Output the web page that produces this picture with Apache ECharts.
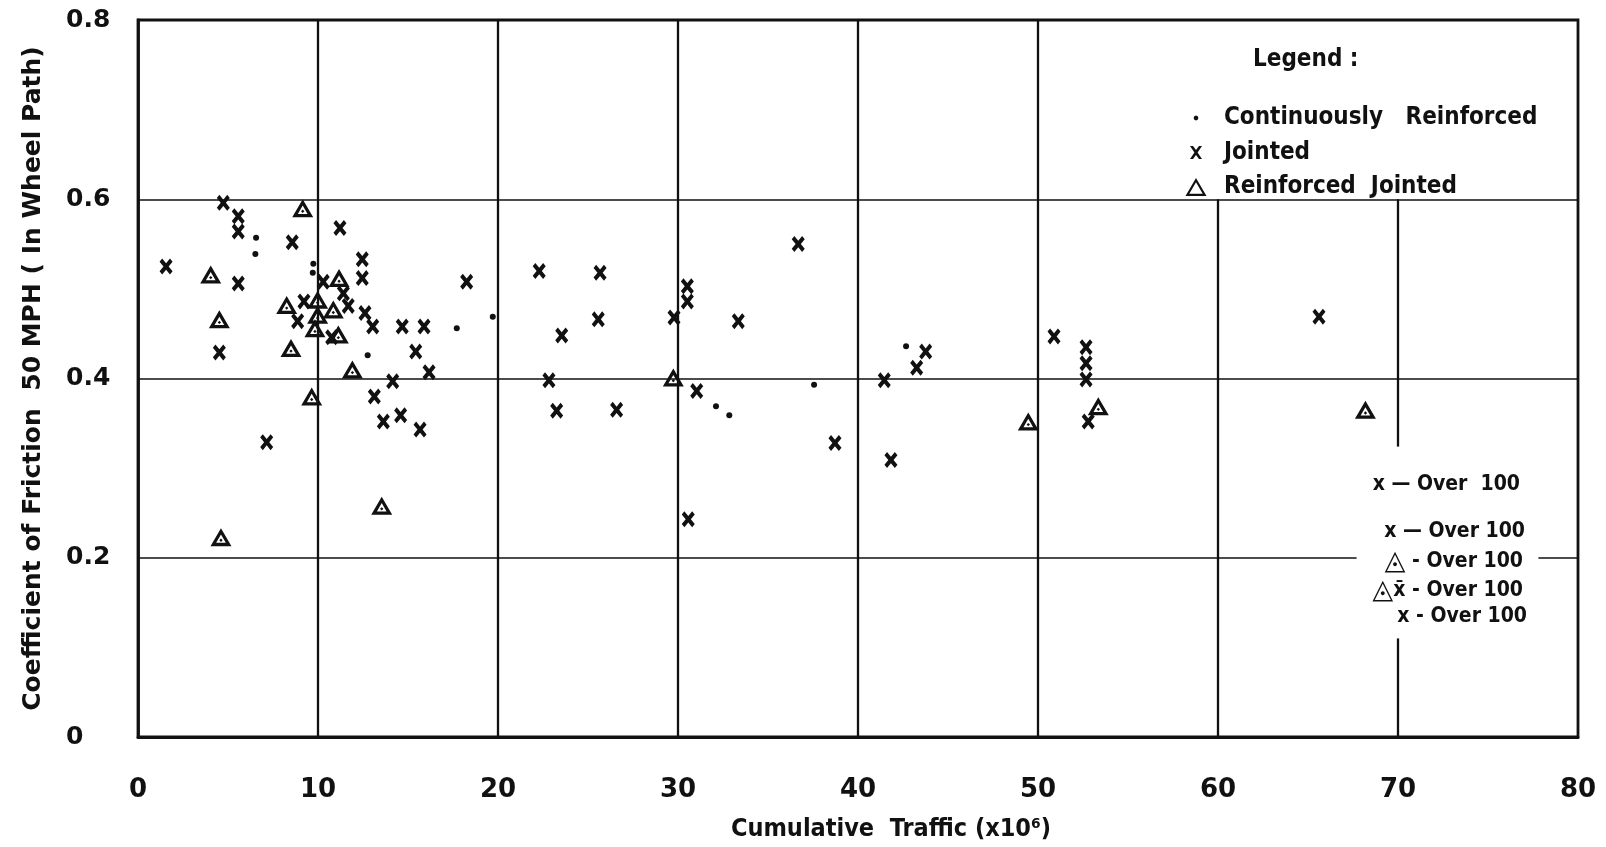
<!DOCTYPE html>
<html>
<head>
<meta charset="utf-8">
<title>Coefficient of Friction vs Cumulative Traffic</title>
<script src="https://cdn.jsdelivr.net/npm/echarts@6.0.0/dist/echarts.min.js"></script>
<style>
  html, body { margin: 0; padding: 0; background: #fff; }
  #chart { width: 1606px; height: 847px; }
</style>
</head>
<body>
<div id="chart"></div>
<script>
// Cumulative traffic (millions) vs. coefficient of friction at 50 mph
const continuouslyReinforced = [
  [6.56, 0.557], [6.52, 0.539], [9.74, 0.528], [9.71, 0.518], [12.76, 0.426],
  [17.71, 0.456], [19.71, 0.469], [32.11, 0.369], [32.85, 0.359], [37.56, 0.393],
  [42.67, 0.436]
];

const jointed = [
  [1.56, 0.525], [4.74, 0.596], [5.57, 0.581], [5.57, 0.564], [5.57, 0.506],
  [4.52, 0.429], [7.15, 0.329], [8.57, 0.552], [8.87, 0.464], [9.22, 0.486],
  [10.29, 0.508], [10.76, 0.446], [11.22, 0.568], [11.41, 0.495], [11.68, 0.481],
  [12.46, 0.533], [12.46, 0.512], [12.61, 0.473], [13.04, 0.458], [13.13, 0.380],
  [13.63, 0.352], [14.15, 0.397], [14.59, 0.359], [14.68, 0.458], [15.43, 0.430],
  [15.67, 0.343], [15.89, 0.458], [16.17, 0.407], [18.26, 0.508], [22.29, 0.520],
  [22.83, 0.398], [23.26, 0.364], [23.54, 0.448], [25.57, 0.466], [25.67, 0.518],
  [26.59, 0.365], [29.78, 0.468], [30.52, 0.503], [30.52, 0.486], [30.57, 0.243],
  [31.04, 0.386], [33.35, 0.464], [36.68, 0.550], [38.72, 0.328], [41.46, 0.398],
  [41.83, 0.309], [43.26, 0.412], [43.76, 0.430], [50.89, 0.447], [52.67, 0.435],
  [52.67, 0.417], [52.67, 0.399], [52.79, 0.352], [65.61, 0.469]
];

const reinforcedJointed = [
  [4.04, 0.516], [4.52, 0.466], [4.61, 0.223], [8.26, 0.482], [8.50, 0.434],
  [9.15, 0.590], [9.65, 0.380], [9.83, 0.456], [9.98, 0.488], [9.98, 0.471],
  [10.85, 0.477], [11.13, 0.449], [11.17, 0.512], [11.91, 0.410], [13.54, 0.258],
  [29.74, 0.401], [49.46, 0.352], [53.35, 0.369], [68.19, 0.365]
];

// Ruled grid: [x, yFrom, yTo] and [y, xFrom, xTo], broken around the notes
const verticalRules = [
  [10, 0, 0.8], [20, 0, 0.8], [30, 0, 0.8], [40, 0, 0.8], [50, 0, 0.8],
  [60, 0, 0.6], [70, 0.324, 0.6], [70, 0, 0.11]
];
const horizontalRules = [
  [0.6, 0, 80], [0.4, 0, 80], [0.2, 0, 67.7], [0.2, 77.8, 80]
];

const seriesNames = ['Continuously   Reinforced', 'Jointed', 'Reinforced  Jointed'];
const overNotes = [
  'x — Over  100',
  'x — Over 100',
  '{tri|◬} - Over 100',
  '{tri|◬}x̄ - Over 100',
  'x - Over 100'
];

const INK = '#111';
const TEXT_FONT = "'DejaVu Sans Condensed', 'Liberation Sans Narrow', sans-serif";
const WIDE_FONT = "'DejaVu Sans', sans-serif";

// Marker shapes
const X_MARK = 'path://M0,2 L2,0 L5,3 L8,0 L10,2 L7,5 L10,8 L8,10 L5,7 L2,10 L0,8 L3,5 Z';
const TRI_DOT_MARK = 'path://M1,18.5 L11,1.5 L21,18.5 Z M6.4,15.4 L15.6,15.4 L11,7.5 Z M9.4,12.9 L11,11.3 L12.6,12.9 L11,14.5 Z';
// Legend icons (leading moves fix the icon box so shapes keep their own size)
const DOT_ICON = 'path://M0,0 M22,20 M8.6,10 L9.3,8.3 L11,7.6 L12.7,8.3 L13.4,10 L12.7,11.7 L11,12.4 L9.3,11.7 Z';
const X_ICON = 'path://M0,0 M22,20 M5,3.5 L8,3.5 L11,7.6 L14,3.5 L17,3.5 L12.6,10 L17,16.5 L14,16.5 L11,12.4 L8,16.5 L5,16.5 L9.4,10 Z';
const TRI_ICON = 'path://M0,0 M22,20 M0.5,19 L11,1 L21.5,19 Z M4.3,16.8 L17.7,16.8 L11,5.3 Z';

function ruleData() {
  const out = [];
  verticalRules.forEach(([x, y0, y1]) => out.push([
    { coord: [x, y0], lineStyle: { width: 2.3 } }, { coord: [x, y1] }
  ]));
  horizontalRules.forEach(([y, x0, x1]) => out.push([
    { coord: [x0, y], lineStyle: { width: 1.7 } }, { coord: [x1, y] }
  ]));
  return out;
}

const chart = echarts.init(document.getElementById('chart'), null, { renderer: 'canvas' });

const noteRights = [1520, 1525, 1523, 1523, 1527];
const noteMids = [485, 532, 562, 591, 617];

chart.setOption({
  animation: false,
  backgroundColor: '#fff',
  textStyle: { fontFamily: TEXT_FONT, color: INK },
  grid: {
    left: 138, right: 28, top: 20, bottom: 109,
    show: true, borderColor: INK, borderWidth: 2.8, backgroundColor: 'transparent'
  },
  title: {
    text: 'Legend :',
    left: 1248, top: 43,
    textStyle: { fontFamily: TEXT_FONT, fontSize: 24, fontWeight: 'bold', color: INK }
  },
  legend: {
    orient: 'vertical',
    left: 1180, top: 101,
    itemWidth: 22, itemHeight: 24, itemGap: 10.5,
    selectedMode: false,
    textStyle: { fontFamily: TEXT_FONT, fontSize: 24, fontWeight: 'bold', color: INK, lineHeight: 24, padding: [0, 0, 0, 12] },
    data: [
      { name: seriesNames[0], icon: DOT_ICON },
      { name: seriesNames[1], icon: X_ICON },
      { name: seriesNames[2], icon: TRI_ICON }
    ]
  },
  xAxis: {
    type: 'value', min: 0, max: 80, interval: 10,
    name: 'Cumulative  Traffic (x10⁶)',
    nameLocation: 'middle', nameGap: 80,
    nameTextStyle: { fontFamily: TEXT_FONT, fontSize: 25, fontWeight: 'bold', color: INK, padding: [0, 0, 0, 66] },
    axisLine: { show: true, lineStyle: { color: INK, width: 2.8 } },
    axisTick: { show: false },
    splitLine: { show: false },
    axisLabel: { fontFamily: WIDE_FONT, fontSize: 26, fontWeight: 'bold', color: INK, margin: 40 }
  },
  yAxis: {
    type: 'value', min: 0, max: 0.8, interval: 0.2,
    name: 'Coefficient of Friction  50 MPH ( In Wheel Path)',
    nameLocation: 'middle', nameGap: 92, nameRotate: 90,
    nameTextStyle: { fontFamily: WIDE_FONT, fontSize: 25, fontWeight: 'bold', color: INK },
    axisLine: { show: true, lineStyle: { color: INK, width: 2.8 } },
    axisTick: { show: false },
    splitLine: { show: false },
    axisLabel: {
      fontFamily: WIDE_FONT, fontSize: 25, fontWeight: 'bold', color: INK,
      align: 'left', margin: 72,
      formatter: v => (v === 0 ? '0' : v.toFixed(1))
    }
  },
  graphic: overNotes.map((t, i) => ({
    type: 'text',
    x: noteRights[i], y: noteMids[i],
    style: {
      text: t, fill: INK, align: 'right', verticalAlign: 'middle',
      fontFamily: TEXT_FONT, fontSize: 21, fontWeight: 'bold',
      rich: { tri: { fontFamily: WIDE_FONT, fontSize: 27, fontWeight: 'bold', fill: INK } }
    }
  })),
  series: [
    {
      name: seriesNames[0], type: 'scatter', data: continuouslyReinforced,
      symbol: 'circle', symbolSize: 6,
      itemStyle: { color: INK, opacity: 1 }, z: 4,
      markLine: {
        silent: true, symbol: 'none', animation: false,
        label: { show: false },
        lineStyle: { color: INK, width: 2, type: 'solid', opacity: 1 },
        emphasis: { disabled: true },
        data: ruleData()
      }
    },
    {
      name: seriesNames[1], type: 'scatter', data: jointed,
      symbol: X_MARK, symbolSize: [13, 16], symbolKeepAspect: false,
      itemStyle: { color: INK, opacity: 1 }, z: 3
    },
    {
      name: seriesNames[2], type: 'scatter', data: reinforcedJointed,
      symbol: TRI_DOT_MARK, symbolSize: [21, 18],
      itemStyle: { color: INK, opacity: 1 }, z: 5
    }
  ]
});
</script>
</body>
</html>
